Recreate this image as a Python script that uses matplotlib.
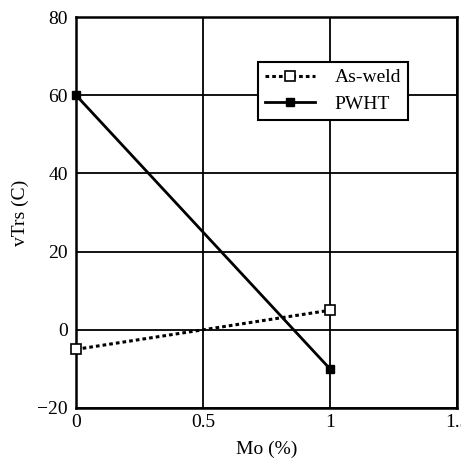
import matplotlib
matplotlib.use("Agg")
import matplotlib.pyplot as plt

mo = [0, 1]
as_weld = [-5, 5]
pwht = [60, -10]
xticks = [0, 0.5, 1, 1.5]
xticklabels = ["0", "0.5", "1", "1.5"]
yticks = [-20, 0, 20, 40, 60, 80]

plt.rcParams['font.family'] = ['Liberation Serif', 'DejaVu Serif']

fig = plt.figure(figsize=(4.61, 4.59), dpi=100)
ax = fig.add_axes([76/461, 1-408/459, (457-76)/461, (408-17)/459])

ax.plot(mo, as_weld, linestyle=(0, (1.2, 1.0)), color='black', lw=2.2,
        marker='s', markersize=7, markerfacecolor='white', markeredgecolor='black',
        markeredgewidth=1.2, label='As-weld', clip_on=False, zorder=3)
ax.plot(mo, pwht, linestyle='-', color='black', lw=2.0,
        marker='s', markersize=6, markerfacecolor='black', markeredgecolor='black',
        label='PWHT', clip_on=False, zorder=3)

ax.set_xlim(0, 1.5)
ax.set_ylim(-20, 80)
ax.set_xticks(xticks)
ax.set_xticklabels(xticklabels)
ax.set_yticks(yticks)
ax.grid(True, color='black', lw=1.3)
ax.set_axisbelow(True)
ax.tick_params(length=0, labelsize=14)
ax.tick_params(axis='x', pad=4)
ax.tick_params(axis='y', pad=6)
for s in ax.spines.values():
    s.set_linewidth(1.8)
    s.set_color('black')

ax.set_xlabel('Mo (%)', fontsize=14, labelpad=7)
ax.set_ylabel('vTrs (C)', fontsize=14, labelpad=6)

leg = ax.legend(loc='upper left', bbox_to_anchor=((258-76)/381, (408-62)/391),
                fontsize=14, frameon=True, fancybox=False, framealpha=1,
                edgecolor='black', handlelength=2.6, borderpad=0.35,
                labelspacing=0.45, handletextpad=1.0, borderaxespad=0)
leg.get_frame().set_linewidth(1.5)

fig.savefig('out.png', dpi=100)
